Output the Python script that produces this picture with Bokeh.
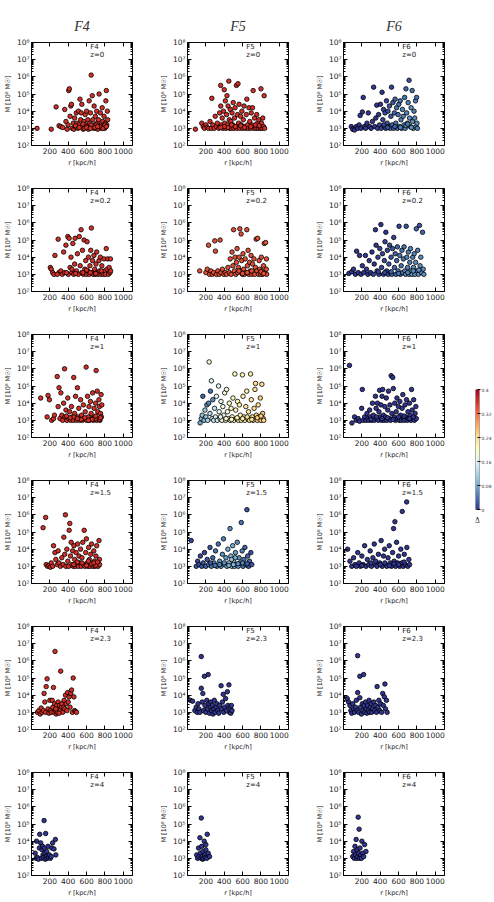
import numpy as np
from bokeh.plotting import figure
from bokeh.layouts import gridplot, row
from bokeh.models import (LogAxis, LinearAxis, FixedTicker, CustomJSTickFormatter,
                          LinearColorMapper, Label, ColumnDataSource)
from bokeh.core.properties import value
from bokeh.embed import file_html
from bokeh.resources import INLINE

# ---------------------------------------------------------------------------
# Halo samples: (r [kpc/h], log10 M [10^8 Msun]) or (r, log10 M, Delta_M)
# ---------------------------------------------------------------------------
MODELS = ["F4", "F5", "F6"]
REDSHIFTS = ["0", "0.2", "1", "1.5", "2.3", "4"]

F4_Z0 = [(60,3.0),(215,2.95),(268,4.25),(300,3.15),(318,3.1),(340,3.05),(362,4.1),(375,3.4),(388,2.95),(398,3.2),(405,5.2),(412,5.3),(420,3.7),(428,4.3),(435,4.4),(442,3.0),(455,3.3),(462,2.95),(470,3.6),(478,3.1),(488,3.9),(496,3.3),(505,3.0),(512,4.0),(520,3.2),(528,4.7),(535,3.5),(542,3.9),(548,4.4),(555,3.1),(562,2.95),(570,3.4),(578,3.0),(585,3.8),(592,3.2),(600,4.0),(607,3.1),(614,3.5),(620,2.95),(628,4.6),(635,3.3),(642,3.9),(650,6.1),(656,3.1),(662,4.9),(668,3.5),(675,3.0),(682,4.3),(688,3.2),(695,3.7),(702,3.0),(710,4.0),(716,3.3),(722,2.95),(730,3.5),(736,5.0),(742,3.1),(750,3.9),(756,3.2),(762,3.0),(770,4.2),(776,3.4),(784,3.1),(790,3.7),(797,3.0),(804,3.3),(810,4.6),(815,5.2),(820,3.2),(826,4.0),(830,3.5),(705,3.2),(745,3.1),(690,3.05),(600,3.05),(650,3.2),(560,3.25),(480,3.15),(520,3.05),(640,3.0),(720,3.1),(780,3.0),(800,3.2),(815,3.1)]
F4_Z02 = [(205,3.4),(215,3.3),(230,3.1),(245,3.0),(255,4.1),(290,5.05),(300,3.1),(320,3.2),(335,3.0),(350,4.3),(360,3.1),(375,4.7),(395,5.2),(400,3.0),(410,5.1),(420,3.4),(430,4.0),(440,3.1),(450,4.8),(460,3.0),(470,3.6),(475,5.1),(490,3.2),(500,4.2),(510,3.0),(520,5.2),(530,3.5),(540,5.6),(548,3.1),(555,4.4),(565,3.0),(572,5.0),(580,3.3),(590,3.8),(598,3.0),(605,4.9),(612,3.2),(620,4.0),(628,3.0),(636,3.5),(645,4.4),(652,5.7),(658,3.1),(665,3.8),(672,3.0),(680,4.1),(688,3.3),(695,3.0),(702,3.6),(710,4.3),(718,3.1),(726,3.0),(735,3.8),(742,3.2),(750,4.0),(758,3.0),(766,3.5),(774,3.1),(782,3.0),(790,3.9),(798,3.2),(806,3.0),(814,4.5),(822,3.3),(830,3.9),(838,3.0),(846,3.4),(855,3.1),(862,3.2),(860,3.9),(760,3.2),(700,3.05),(640,3.1),(600,3.25),(560,3.1),(480,3.05),(440,3.3),(380,3.1),(280,3.0)]
F4_Z1 = [(100,4.3),(170,3.2),(180,4.45),(195,4.2),(220,3.0),(240,3.1),(250,3.3),(280,5.55),(290,3.8),(300,4.9),(310,3.1),(320,4.6),(330,3.3),(340,3.0),(350,4.0),(360,6.0),(365,3.2),(375,3.6),(385,3.0),(395,4.3),(405,3.1),(415,3.5),(425,3.0),(435,3.8),(445,3.2),(455,3.0),(460,5.5),(470,3.4),(480,4.4),(490,3.0),(500,4.9),(505,3.2),(515,3.7),(525,3.0),(535,4.2),(545,3.3),(555,3.0),(565,3.9),(575,3.1),(585,3.5),(595,6.1),(600,3.0),(610,4.4),(618,3.2),(626,3.8),(634,3.0),(642,4.1),(650,3.4),(658,3.1),(666,4.6),(674,3.0),(682,3.7),(690,3.2),(698,4.0),(704,5.9),(710,3.0),(716,4.7),(722,3.5),(728,3.1),(734,4.2),(740,3.8),(746,3.0),(752,3.4),(758,4.5),(762,3.2),(766,3.9),(740,3.05),(700,3.1),(660,3.05),(620,3.0),(580,3.15),(540,3.05),(500,3.1),(460,3.2),(420,3.15),(380,3.25),(700,3.25),(750,3.15)]
F4_Z15 = [(126,5.25),(154,5.85),(160,3.1),(175,3.0),(190,3.05),(205,2.95),(215,3.2),(230,3.0),(240,4.2),(255,3.8),(265,3.4),(280,3.1),(290,3.9),(300,3.2),(315,3.0),(330,3.5),(345,3.1),(352,4.7),(362,3.7),(369,6.0),(375,3.0),(385,4.0),(395,3.3),(405,3.0),(410,5.1),(417,5.5),(425,3.6),(432,4.4),(440,3.1),(448,3.9),(455,3.0),(462,4.2),(470,3.4),(478,3.0),(486,3.8),(494,3.1),(502,4.3),(510,3.0),(518,3.6),(526,3.2),(534,4.0),(542,3.0),(550,3.5),(558,4.4),(566,3.1),(574,5.1),(582,3.0),(590,3.8),(598,4.6),(606,3.2),(614,3.0),(622,4.1),(630,3.4),(638,3.0),(646,3.7),(654,4.3),(662,3.1),(670,3.0),(678,3.9),(686,3.3),(694,3.0),(702,3.6),(710,4.2),(718,3.1),(726,3.0),(735,4.5),(740,3.4),(742,3.1),(700,3.05),(650,3.15),(600,3.05),(550,3.2),(500,3.25),(460,3.1),(620,3.3),(680,3.2),(720,3.25)]
F4_Z23 = [(65,3.0),(80,3.1),(95,2.9),(105,3.25),(115,3.0),(130,3.1),(137,4.1),(145,3.6),(155,3.0),(160,4.5),(170,4.95),(180,3.2),(190,2.95),(200,3.7),(205,3.1),(215,3.0),(225,3.7),(232,3.3),(239,4.45),(245,3.0),(252,3.5),(256,6.55),(262,3.1),(268,2.9),(275,3.4),(282,3.0),(290,3.6),(298,3.2),(305,3.4),(312,3.1),(318,5.4),(325,3.3),(332,3.5),(340,3.0),(348,3.3),(355,3.7),(362,3.2),(370,4.0),(378,3.5),(385,3.1),(393,4.15),(400,3.6),(410,3.9),(420,3.3),(427,4.1),(437,4.3),(445,3.0),(454,5.0),(462,3.9),(470,3.1),(480,3.05),(490,3.0),(300,2.95),(265,3.2)]
F4_Z4 = [(40,3.3),(50,3.0),(55,4.0),(65,3.05),(75,2.95),(85,3.6),(90,4.4),(100,3.9),(110,3.0),(115,3.5),(120,3.7),(125,3.2),(130,3.05),(137,5.2),(140,3.6),(145,3.3),(150,2.95),(154,4.45),(160,3.1),(165,3.4),(170,3.0),(180,3.7),(185,3.05),(195,3.2),(205,3.0),(215,3.1),(220,3.6),(230,3.9),(245,3.55),(260,4.1),(265,3.2)]

F5_Z0 = [(86,2.95),(155,3.3),(172,3.1),(185,3.0),(200,3.2),(215,3.05),(230,3.0),(245,3.4),(260,3.0),(265,4.75),(275,3.2),(290,3.0),(302,3.7),(315,3.1),(325,3.3),(340,3.0),(350,3.9),(361,5.5),(362,4.3),(370,3.2),(378,3.6),(385,3.0),(392,4.0),(400,5.25),(405,3.3),(412,4.6),(418,3.0),(425,3.8),(430,4.9),(436,3.2),(442,4.3),(450,5.75),(455,3.5),(460,3.0),(466,4.1),(472,3.4),(478,3.0),(485,3.9),(492,3.2),(498,4.5),(505,3.0),(512,3.6),(518,4.2),(525,3.1),(533,5.5),(538,3.0),(545,3.8),(550,5.6),(556,3.3),(562,4.4),(570,3.0),(578,3.7),(585,3.2),(592,4.0),(600,3.0),(608,3.5),(616,4.3),(624,3.1),(632,3.0),(640,3.8),(646,4.7),(654,3.2),(662,3.0),(670,4.2),(678,3.4),(686,3.0),(694,3.9),(702,3.2),(708,4.2),(715,5.2),(722,3.0),(730,3.6),(738,3.1),(746,3.0),(754,3.8),(762,3.3),(770,3.0),(778,3.5),(786,3.1),(794,3.0),(800,5.3),(806,3.3),(812,3.0),(820,3.6),(828,3.1),(835,4.9),(840,3.0),(690,3.1),(620,3.05),(580,3.15),(520,3.1),(480,3.2),(440,3.05),(400,3.1),(360,3.05),(740,3.2),(780,3.15)]
F5_Z02 = [(133,3.2),(200,3.1),(215,3.3),(229,4.7),(240,3.0),(255,3.2),(270,3.0),(285,3.1),(297,4.95),(304,4.35),(315,3.0),(330,3.2),(345,3.0),(355,5.0),(365,3.1),(380,3.3),(395,3.0),(410,3.1),(425,3.0),(440,3.4),(455,3.1),(465,3.9),(475,3.0),(485,4.3),(495,3.5),(502,5.6),(510,3.2),(518,4.0),(525,3.0),(532,3.7),(540,4.5),(548,3.1),(555,3.4),(562,4.0),(570,5.65),(576,3.2),(584,5.35),(590,3.8),(598,3.0),(605,4.2),(612,3.3),(620,3.0),(628,3.9),(636,3.1),(646,5.6),(652,3.5),(660,4.4),(668,3.0),(676,3.7),(684,3.2),(692,4.1),(700,3.0),(708,3.6),(716,3.1),(724,3.9),(732,3.0),(740,3.4),(748,5.05),(756,3.2),(764,5.1),(772,3.0),(780,3.8),(788,3.3),(796,3.0),(804,4.0),(812,3.2),(820,3.0),(828,3.5),(836,4.8),(844,3.1),(851,4.85),(858,3.3),(862,3.0),(860,3.9),(700,3.2),(650,3.1),(600,3.05),(560,3.2),(800,3.15),(830,3.05)]
F5_Z1 = [(137,2.85,0.08),(150,3.1,0.09),(160,3.3,0.10),(167,4.4,0.03),(180,3.0,0.09),(190,3.6,0.11),(200,3.2,0.10),(210,3.9,0.06),(220,3.0,0.12),(230,4.0,0.05),(236,6.4,0.18),(245,3.4,0.12),(250,4.7,0.04),(260,5.3,0.16),(268,3.1,0.13),(275,4.2,0.06),(285,3.0,0.14),(295,3.7,0.13),(305,3.2,0.15),(315,4.4,0.16),(325,3.0,0.15),(338,5.0,0.16),(345,3.5,0.17),(355,3.1,0.16),(365,4.1,0.17),(375,3.0,0.18),(385,3.8,0.18),(395,3.3,0.17),(405,4.6,0.18),(415,3.0,0.19),(425,4.8,0.18),(435,3.5,0.19),(445,3.1,0.18),(455,4.0,0.2),(465,3.0,0.19),(475,3.7,0.2),(485,3.2,0.2),(495,4.3,0.2),(505,3.0,0.21),(516,5.7,0.2),(525,3.6,0.21),(535,3.1,0.21),(545,4.1,0.21),(555,3.0,0.22),(565,3.9,0.22),(575,3.3,0.21),(585,3.0,0.22),(598,5.65,0.21),(605,4.4,0.22),(615,3.2,0.23),(625,3.0,0.22),(635,3.8,0.23),(645,4.7,0.22),(655,3.1,0.23),(665,3.5,0.23),(675,3.0,0.24),(687,5.7,0.22),(695,4.2,0.23),(705,3.2,0.24),(715,3.0,0.24),(725,3.7,0.24),(735,4.8,0.23),(741,5.15,0.24),(750,3.3,0.25),(760,3.0,0.25),(770,3.9,0.24),(780,3.2,0.25),(793,4.3,0.25),(800,3.0,0.26),(810,5.1,0.24),(818,3.4,0.26),(825,3.1,0.26),(830,3.0,0.25),(600,3.1,0.22),(540,3.15,0.21),(480,3.05,0.2),(420,3.1,0.19),(360,3.2,0.17),(700,3.05,0.24),(760,3.15,0.25),(650,3.2,0.23),(800,3.25,0.25)]
F5_Z15 = [(40,4.5,0.01),(95,3.0,0.02),(110,3.3,0.01),(125,3.1,0.02),(140,3.6,0.01),(155,3.0,0.02),(170,3.2,0.02),(185,3.8,0.01),(200,3.0,0.03),(215,3.4,0.02),(230,3.1,0.04),(245,4.1,0.02),(260,3.0,0.04),(275,3.5,0.03),(290,3.2,0.05),(305,3.9,0.04),(320,3.0,0.05),(335,4.3,0.04),(350,3.3,0.06),(365,3.0,0.06),(380,3.7,0.06),(392,4.6,0.05),(405,3.1,0.08),(418,3.5,0.07),(430,3.0,0.09),(440,4.0,0.08),(452,3.2,0.1),(463,5.2,0.06),(472,3.6,0.09),(482,3.0,0.1),(492,4.2,0.08),(502,3.3,0.09),(512,3.0,0.08),(522,3.8,0.07),(532,3.1,0.07),(542,4.4,0.06),(552,3.0,0.06),(562,3.5,0.06),(572,3.2,0.05),(586,5.55,0.04),(595,3.9,0.05),(605,3.0,0.04),(615,3.4,0.04),(625,4.1,0.03),(635,3.1,0.03),(647,6.3,0.02),(655,3.6,0.03),(665,3.0,0.02),(675,3.3,0.03),(690,3.8,0.02),(700,3.1,0.02),(600,3.2,0.05),(550,3.15,0.06),(500,3.1,0.09),(450,3.05,0.08),(400,3.2,0.06),(350,3.1,0.05),(300,3.05,0.04),(250,3.2,0.02),(650,3.15,0.03),(480,3.4,0.1),(520,3.5,0.08)]
F5_Z23 = [(30,3.7),(55,3.65),(80,3.1),(95,3.3),(105,3.0),(115,3.5),(125,3.2),(135,3.0),(150,4.4),(150,6.25),(160,3.6),(167,4.1),(175,3.1),(184,5.1),(190,3.4),(200,3.0),(210,3.7),(218,3.2),(225,5.2),(232,3.5),(240,2.95),(248,3.3),(255,3.6),(262,3.1),(270,3.4),(278,2.9),(285,3.2),(292,3.7),(300,3.0),(310,3.3),(320,3.5),(330,3.1),(340,2.95),(350,3.4),(366,4.55),(370,3.2),(380,3.6),(389,4.05),(395,3.0),(405,3.3),(415,3.8),(425,3.1),(434,4.2),(440,3.4),(451,4.6),(458,3.0),(465,3.3),(472,2.95),(478,3.4),(485,3.1)]
F5_Z4 = [(100,3.2),(110,3.0),(120,3.6),(125,3.1),(135,4.2),(140,3.3),(148,3.0),(150,5.35),(155,3.7),(160,3.1),(165,2.95),(170,3.4),(175,3.0),(182,4.0),(188,3.2),(195,3.05),(200,3.5),(210,3.0),(215,4.4),(225,3.3),(240,3.1),(200,3.8)]

F6_Z0 = [(85,3.1,0.0),(100,2.95,0.0),(120,2.9,0.0),(140,3.1,0.0),(155,3.0,0.0),(170,3.2,0.0),(181,3.75,0.0),(190,3.0,0.0),(205,3.95,0.0),(215,4.8,0.0),(225,3.1,0.0),(240,3.0,0.0),(255,3.3,0.0),(270,3.9,0.0),(285,3.1,0.0),(300,3.0,0.0),(315,3.4,0.0),(328,5.4,0.0),(340,3.1,0.0),(352,3.6,0.0),(362,4.35,0.0),(372,3.0,0.01),(382,3.8,0.0),(392,3.2,0.01),(402,4.4,0.0),(410,3.0,0.01),(420,5.1,0.0),(428,3.5,0.01),(436,4.1,0.01),(445,3.1,0.01),(452,3.9,0.02),(460,3.0,0.01),(468,4.6,0.01),(476,3.3,0.02),(484,4.0,0.02),(492,3.1,0.02),(500,4.3,0.02),(508,3.0,0.03),(516,3.7,0.02),(523,5.4,0.01),(530,3.2,0.03),(538,4.5,0.02),(546,3.0,0.03),(554,3.9,0.03),(562,4.7,0.03),(570,3.3,0.04),(578,4.2,0.04),(586,3.0,0.04),(594,3.8,0.04),(602,4.4,0.04),(610,3.1,0.05),(618,4.6,0.04),(626,3.5,0.05),(634,3.0,0.05),(642,4.1,0.05),(650,3.7,0.05),(658,3.2,0.05),(666,4.8,0.04),(672,3.0,0.05),(680,5.3,0.03),(688,3.9,0.05),(696,3.3,0.06),(704,4.5,0.05),(714,5.8,0.02),(720,3.6,0.06),(728,3.1,0.05),(736,4.2,0.06),(748,5.2,0.04),(752,3.4,0.06),(760,3.0,0.06),(768,4.0,0.05),(776,3.6,0.06),(784,4.6,0.05),(790,3.1,0.06),(796,4.8,0.04),(800,3.3,0.06),(805,3.0,0.05),(620,3.05,0.05),(560,3.1,0.03),(480,3.05,0.02),(440,3.2,0.01),(680,3.15,0.05),(740,3.05,0.06),(700,3.25,0.05)]
F6_Z02 = [(58,3.05,0.0),(90,3.15,0.0),(109,3.3,0.0),(130,3.0,0.0),(143,4.35,0.0),(160,3.1,0.0),(175,4.1,0.0),(190,3.0,0.0),(205,3.5,0.0),(220,3.1,0.0),(239,4.1,0.0),(250,3.3,0.0),(265,3.0,0.0),(280,3.8,0.0),(295,3.1,0.0),(310,4.3,0.0),(325,3.0,0.01),(335,3.6,0.0),(348,5.6,0.0),(355,4.7,0.0),(365,3.2,0.01),(375,4.0,0.01),(385,3.0,0.01),(395,4.5,0.01),(407,5.9,0.0),(415,3.4,0.01),(425,4.2,0.01),(435,3.0,0.01),(445,3.8,0.01),(452,4.9,0.01),(461,5.45,0.0),(470,3.2,0.01),(478,4.4,0.01),(486,3.0,0.02),(494,3.6,0.02),(502,4.7,0.01),(510,3.1,0.02),(518,4.0,0.02),(526,3.0,0.03),(534,4.5,0.02),(547,5.15,0.01),(555,3.4,0.03),(563,4.2,0.03),(571,3.0,0.03),(579,3.8,0.03),(587,4.6,0.03),(595,3.2,0.04),(605,5.8,0.01),(612,4.1,0.04),(620,3.0,0.04),(628,3.5,0.04),(636,4.4,0.04),(644,3.1,0.05),(652,3.9,0.04),(660,4.6,0.04),(668,3.2,0.05),(676,3.0,0.05),(683,5.8,0.02),(690,4.0,0.05),(698,3.4,0.05),(706,4.3,0.05),(714,3.0,0.06),(722,3.7,0.05),(730,4.5,0.05),(738,3.2,0.06),(746,3.0,0.06),(754,4.0,0.05),(762,3.4,0.06),(770,4.2,0.05),(778,3.0,0.06),(786,3.7,0.06),(793,5.65,0.03),(800,3.2,0.06),(808,4.4,0.05),(816,3.0,0.06),(827,5.85,0.02),(834,3.5,0.06),(842,4.0,0.06),(850,3.1,0.06),(861,5.45,0.03),(868,3.3,0.06),(875,3.0,0.06),(600,3.05,0.04),(520,3.15,0.03),(450,3.1,0.01),(700,3.1,0.05),(760,3.2,0.06),(820,3.25,0.06),(380,3.15,0.01)]
F6_Z1 = [(65,6.2),(92,2.85),(120,3.2),(140,3.0),(160,3.1),(175,2.95),(198,3.7),(205,4.8),(215,3.0),(230,3.2),(245,3.0),(255,3.4),(265,3.1),(275,3.0),(285,3.6),(295,3.2),(305,3.0),(315,4.0),(325,3.3),(335,3.0),(348,4.4),(355,3.7),(362,3.1),(370,4.0),(378,3.0),(386,3.5),(393,4.75),(400,3.2),(408,3.9),(415,3.0),(420,4.4),(427,4.8),(434,3.3),(442,3.0),(450,3.8),(458,3.2),(466,4.3),(474,3.0),(482,3.6),(490,4.7),(498,3.1),(506,3.9),(514,3.0),(519,5.6),(527,3.4),(536,5.5),(543,4.85),(550,3.2),(558,4.0),(566,3.0),(574,3.5),(582,4.3),(590,3.1),(598,3.8),(606,3.0),(614,4.1),(622,3.3),(630,3.0),(638,3.7),(646,4.5),(654,3.1),(662,3.0),(670,3.9),(678,3.2),(686,4.2),(694,3.0),(702,3.5),(710,3.1),(718,4.0),(726,3.3),(734,3.0),(741,4.8),(748,3.6),(756,3.1),(764,4.2),(772,3.0),(780,3.4),(788,3.8),(793,3.1),(600,3.2),(540,3.05),(480,3.15),(420,3.1),(360,3.2),(300,3.05),(660,3.25),(720,3.1),(760,3.2)]
F6_Z15 = [(45,4.0),(70,3.3),(90,3.0),(110,3.5),(125,3.1),(140,3.0),(155,3.8),(170,3.2),(185,3.0),(200,3.6),(215,3.1),(230,4.2),(245,3.0),(260,3.4),(275,3.1),(290,3.9),(305,3.0),(320,3.5),(335,4.3),(350,3.1),(365,3.0),(380,3.7),(395,3.2),(410,4.5),(422,3.0),(435,3.6),(448,4.0),(460,3.1),(472,3.0),(485,3.5),(498,4.2),(510,3.2),(522,3.0),(535,3.8),(545,5.2),(552,3.3),(560,5.6),(568,3.0),(578,4.4),(590,3.2),(600,3.6),(612,3.0),(624,4.0),(636,3.2),(640,6.2),(650,3.0),(662,3.7),(674,3.1),(688,6.75),(690,4.1),(700,3.0),(712,3.4),(720,3.1),(600,3.1),(500,3.05),(400,3.1),(300,3.2),(200,3.05),(660,3.25),(550,3.15),(450,3.2),(350,3.3)]
F6_Z23 = [(41,3.8),(55,3.6),(70,3.4),(80,3.1),(90,2.95),(100,3.5),(110,3.2),(120,3.0),(130,3.3),(140,3.7),(150,3.1),(154,4.15),(154,6.3),(165,3.0),(178,3.85),(178,5.1),(185,3.3),(195,2.9),(205,3.5),(212,3.1),(219,5.2),(225,3.4),(232,3.0),(240,3.6),(248,3.2),(255,2.95),(262,3.4),(270,3.1),(278,3.7),(285,3.0),(292,3.3),(300,3.5),(308,3.0),(318,3.2),(330,3.6),(340,3.1),(350,3.4),(360,3.0),(366,4.5),(375,3.3),(385,3.7),(395,3.1),(405,3.5),(415,3.0),(427,4.1),(435,3.4),(445,3.9),(451,4.65),(458,3.2),(468,3.7),(475,3.0)]
F6_Z4 = [(100,3.1),(110,3.4),(118,3.0),(125,3.7),(130,3.2),(138,4.1),(145,3.0),(150,3.5),(155,3.1),(160,5.4),(165,3.3),(170,4.7),(175,3.0),(180,3.6),(188,3.2),(195,3.0),(200,4.0),(210,3.3),(220,3.1),(230,3.8),(245,3.4)]

# Delta_M used for panels whose samples carry no per-halo value
DELTA_F4 = [0.36, 0.36, 0.36, 0.36, 0.36, 0.0]
DELTA_F5 = [0.36, 0.34, None, None, 0.0, 0.0]
DELTA_F6 = [None, None, 0.0, 0.0, 0.0, 0.0]

SAMPLES = {
    "F4": [F4_Z0, F4_Z02, F4_Z1, F4_Z15, F4_Z23, F4_Z4],
    "F5": [F5_Z0, F5_Z02, F5_Z1, F5_Z15, F5_Z23, F5_Z4],
    "F6": [F6_Z0, F6_Z02, F6_Z1, F6_Z15, F6_Z23, F6_Z4],
}
DELTAS = {"F4": DELTA_F4, "F5": DELTA_F5, "F6": DELTA_F6}

X_TICKS = [200, 400, 600, 800, 1000]
Y_TICKS = [1e2, 1e3, 1e4, 1e5, 1e6, 1e7, 1e8]
CB_TICKS = [0, 0.08, 0.16, 0.24, 0.32, 0.4]

# RdYlBu, reversed (blue -> red), interpolated to a smooth 256 colour ramp
RDYLBU_R = ["#313695", "#4575b4", "#74add1", "#abd9e9", "#e0f3f8", "#ffffbf",
            "#fee090", "#fdae61", "#f46d43", "#d73027", "#a50026"]


def smooth_palette(colors, n):
    rgb = np.array([[int(c[i:i + 2], 16) for i in (1, 3, 5)] for c in colors], float)
    pos = np.linspace(0, 1, len(colors))
    t = np.linspace(0, 1, n)
    out = np.stack([np.interp(t, pos, rgb[:, k]) for k in range(3)], axis=1)
    return ["#%02x%02x%02x" % tuple(int(round(v)) for v in c) for c in out]


PALETTE = smooth_palette(RDYLBU_R, 256)
mapper = LinearColorMapper(palette=PALETTE, low=0.0, high=0.4)

SUP = "{2:'\u00b2',3:'\u00b3',4:'\u2074',5:'\u2075',6:'\u2076',7:'\u2077',8:'\u2078'}"
LOG_FMT = "const s=%s; return '10' + s[Math.round(Math.log10(tick))];" % SUP
BLANK_FMT = "return '';"
MINOR_Y = [k * 10.0 ** e for e in range(2, 8) for k in range(2, 10)]

TICK_FONT = "7.5px"
FONT = "DejaVu Sans"


def style_axis(ax):
    ax.axis_line_color = "black"
    ax.axis_line_width = 0.8
    ax.major_tick_in = 4
    ax.major_tick_out = 0
    ax.minor_tick_in = 2
    ax.minor_tick_out = 0
    ax.major_tick_line_color = "black"
    ax.minor_tick_line_color = "black"
    ax.major_label_standoff = 2
    ax.major_label_text_font_size = TICK_FONT
    ax.major_label_text_font = FONT
    ax.major_label_text_color = "#222222"
    ax.axis_label_standoff = 2
    ax.axis_label_text_font_size = "6.5px"
    ax.axis_label_text_font = FONT
    ax.axis_label_text_font_style = "normal"
    ax.axis_label_text_color = "#222222"


def make_panel(model, zi):
    first = zi == 0
    pts = SAMPLES[model][zi]
    delta = DELTAS[model][zi]
    r = [p[0] for p in pts]
    m = [10.0 ** p[1] for p in pts]
    d = [p[2] for p in pts] if len(pts[0]) == 3 else [delta] * len(pts)

    p = figure(width=156, height=169 if first else 146,
               x_range=(0, 1100), y_range=(1e2, 1e8), y_axis_type="log",
               output_backend="svg", toolbar_location=None,
               min_border_left=25, min_border_right=24,
               min_border_top=42 if first else 19, min_border_bottom=22)
    p.grid.visible = False
    p.outline_line_color = "black"
    p.outline_line_width = 0.8
    p.background_fill_color = "white"
    p.border_fill_color = "white"

    if first:
        p.title.text = model
        p.title.align = "center"
        p.title.text_font = "Liberation Serif"
        p.title.text_font_style = "italic"
        p.title.text_font_size = "14px"
        p.title.text_color = "#333333"
        p.title.standoff = 17

    p.xaxis.ticker = FixedTicker(ticks=X_TICKS)
    p.xaxis.axis_label = "r [kpc/h]"
    p.yaxis.ticker = FixedTicker(ticks=Y_TICKS, minor_ticks=MINOR_Y)
    p.yaxis.formatter = CustomJSTickFormatter(code=LOG_FMT)
    p.yaxis.axis_label = "M [10\u2078 M\u2609]"
    for ax in p.xaxis + p.yaxis:
        style_axis(ax)

    top = LinearAxis(ticker=FixedTicker(ticks=X_TICKS),
                     formatter=CustomJSTickFormatter(code=BLANK_FMT))
    right = LogAxis(ticker=FixedTicker(ticks=Y_TICKS, minor_ticks=MINOR_Y),
                    formatter=CustomJSTickFormatter(code=BLANK_FMT))
    for ax in (top, right):
        style_axis(ax)
        ax.major_label_standoff = 0
        ax.major_label_text_font_size = "1px"
    p.add_layout(top, "above")
    p.add_layout(right, "right")

    src = ColumnDataSource(dict(r=r, m=m, d=d))
    p.scatter("r", "m", source=src, size=4.5,
              fill_color={"field": "d", "transform": mapper},
              line_color="black", line_width=0.8)

    p.text(x=[640, 640], y=[10 ** 7.72, 10 ** 7.3], text=[model, "z=" + REDSHIFTS[zi]],
           text_font=value(FONT), text_font_size="7px", text_baseline="middle",
           text_color="#222222")
    return p


grid_rows = [[make_panel(mdl, zi) for mdl in MODELS] for zi in range(len(REDSHIFTS))]
grid = gridplot(grid_rows, toolbar_location=None)

# colour bar for Delta_M; the frame extends below the ramp to hold its label
cb = figure(width=26, height=560, x_range=(0, 1), y_range=(-0.06, 0.4),
            output_backend="svg", toolbar_location=None,
            x_axis_location=None, y_axis_location=None,
            min_border_left=7, min_border_right=13, min_border_top=389, min_border_bottom=33)
cb.grid.visible = False
cb.outline_line_color = None
cb.image(image=[np.linspace(0, 0.4, 256).reshape(256, 1)], x=0, y=0, dw=1, dh=0.4,
         color_mapper=mapper)
cb.quad(left=[0], right=[1], bottom=[0], top=[0.4], fill_color=None,
        line_color="black", line_width=0.6)
cb_axis = LinearAxis(ticker=FixedTicker(ticks=CB_TICKS),
                     formatter=CustomJSTickFormatter(
                         code="return tick.toFixed(2).replace(/0+$/,'').replace(/\\.$/,'');"))
cb_axis.axis_line_color = None
cb_axis.major_tick_in = 2
cb_axis.major_tick_out = 1
cb_axis.minor_tick_line_color = None
cb_axis.major_label_standoff = 1
cb_axis.major_label_text_font_size = "4.5px"
cb_axis.major_label_text_font = FONT
cb_axis.major_label_text_color = "#333333"
cb.add_layout(cb_axis, "right")
cb.add_layout(Label(x=0.5, y=-0.018, text="\u0394", text_align="center",
                    text_baseline="top", text_font="Liberation Serif",
                    text_font_size="9px", text_color="#333333"))
cb.add_layout(Label(x=0.5, y=-0.018, x_offset=4, y_offset=-4, text="M", text_align="left",
                    text_baseline="top", text_font="Liberation Serif",
                    text_font_style="italic", text_font_size="5px", text_color="#333333"))

layout = row(grid, cb)

with open("out.html", "w") as fh:
    fh.write(file_html(layout, INLINE, title="Halo mass vs. distance"))
